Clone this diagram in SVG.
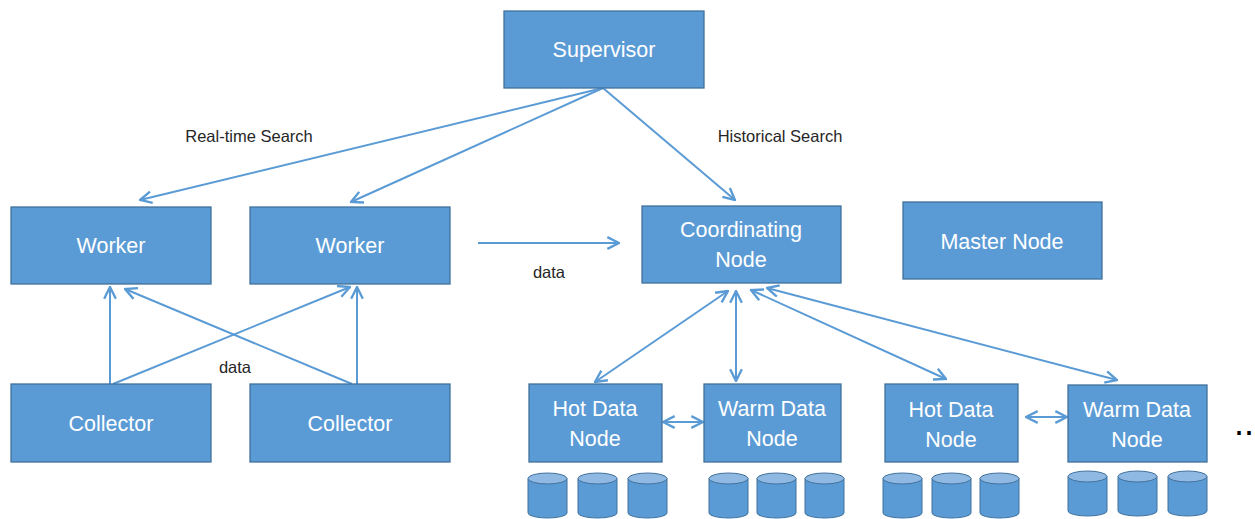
<svg xmlns="http://www.w3.org/2000/svg" width="1255" height="519" viewBox="0 0 1255 519">
<style>
.box{fill:#5B9BD5;stroke:#41719C;stroke-width:1.3}
.lbl{font-family:"Liberation Sans",Arial,sans-serif;font-size:21.5px;fill:#FFFFFF;text-anchor:middle}
.note{font-family:"Liberation Sans",Arial,sans-serif;font-size:16.5px;fill:#262626;text-anchor:middle}
.conn{stroke:#5B9BD5;stroke-width:2;fill:none}
.cylb{fill:#5B9BD5;stroke:#41719C;stroke-width:1}
.cylt{fill:#8FB9E3;stroke:#41719C;stroke-width:1}
</style>
<defs>
<marker id="ah" markerUnits="userSpaceOnUse" markerWidth="14" markerHeight="14" viewBox="0 0 12 12" refX="11" refY="6" orient="auto-start-reverse">
<path d="M1,1 L11,6 L1,11" fill="none" stroke="#5B9BD5" stroke-width="2"/>
</marker>
<g id="cyl">
<path class="cylb" d="M0,5.5 L0,40 A19.5,5 0 0 0 39,40 L39,5.5 Z"/>
<ellipse class="cylt" cx="19.5" cy="5.5" rx="19.5" ry="5.5"/>
</g>
</defs>
<rect width="1255" height="519" fill="#FFFFFF"/>

<g id="connectors">
<line class="conn" x1="603" y1="88" x2="140" y2="200" marker-end="url(#ah)"/>
<line class="conn" x1="603" y1="88" x2="351" y2="202" marker-end="url(#ah)"/>
<line class="conn" x1="603" y1="88" x2="735" y2="200" marker-end="url(#ah)"/>
<line class="conn" x1="478" y1="243" x2="619" y2="243" marker-end="url(#ah)"/>
<line class="conn" x1="110" y1="384" x2="110" y2="287" marker-end="url(#ah)"/>
<line class="conn" x1="357" y1="384" x2="357" y2="287" marker-end="url(#ah)"/>
<line class="conn" x1="113" y1="384" x2="350" y2="287" marker-end="url(#ah)"/>
<line class="conn" x1="352" y1="384" x2="125" y2="289" marker-end="url(#ah)"/>
<line class="conn" x1="728" y1="291" x2="595" y2="382" marker-start="url(#ah)" marker-end="url(#ah)"/>
<line class="conn" x1="736" y1="291" x2="736" y2="381" marker-start="url(#ah)" marker-end="url(#ah)"/>
<line class="conn" x1="751" y1="290" x2="946" y2="379" marker-start="url(#ah)" marker-end="url(#ah)"/>
<line class="conn" x1="767" y1="288" x2="1117" y2="380" marker-start="url(#ah)" marker-end="url(#ah)"/>
<line class="conn" x1="663" y1="422" x2="703" y2="422" marker-start="url(#ah)" marker-end="url(#ah)"/>
<line class="conn" x1="1026" y1="417" x2="1067" y2="417" marker-start="url(#ah)" marker-end="url(#ah)"/>
</g>

<g id="labels">
<text class="note" x="249" y="142">Real-time Search</text>
<text class="note" x="780" y="142">Historical Search</text>
<text class="note" x="235" y="373">data</text>
<text class="note" x="549" y="278">data</text>
</g>

<g id="supervisor"><rect class="box" x="504" y="11" width="200" height="77"/><text class="lbl" x="604" y="57">Supervisor</text></g>
<g id="worker1"><rect class="box" x="11" y="207" width="200" height="77"/><text class="lbl" x="111" y="253">Worker</text></g>
<g id="worker2"><rect class="box" x="250" y="207" width="200" height="77"/><text class="lbl" x="350" y="253">Worker</text></g>
<g id="collector1"><rect class="box" x="11" y="384" width="200" height="78"/><text class="lbl" x="111" y="431">Collector</text></g>
<g id="collector2"><rect class="box" x="250" y="384" width="200" height="78"/><text class="lbl" x="350" y="431">Collector</text></g>
<g id="coordinating"><rect class="box" x="642" y="206" width="199" height="77"/><text class="lbl" x="741" y="237">Coordinating</text><text class="lbl" x="741" y="267">Node</text></g>
<g id="master"><rect class="box" x="903" y="202" width="199" height="77"/><text class="lbl" x="1002" y="249">Master Node</text></g>
<g id="hot1"><rect class="box" x="529" y="384" width="133" height="78"/><text class="lbl" x="595" y="416">Hot Data</text><text class="lbl" x="595" y="446">Node</text></g>
<g id="warm1"><rect class="box" x="704" y="384" width="137" height="78"/><text class="lbl" x="772" y="416">Warm Data</text><text class="lbl" x="772" y="446">Node</text></g>
<g id="hot2"><rect class="box" x="885" y="384" width="133" height="78"/><text class="lbl" x="951" y="417">Hot Data</text><text class="lbl" x="951" y="447">Node</text></g>
<g id="warm2"><rect class="box" x="1068" y="385" width="139" height="77"/><text class="lbl" x="1137" y="417">Warm Data</text><text class="lbl" x="1137" y="447">Node</text></g>

<g id="storage">
<use href="#cyl" x="528" y="473"/>
<use href="#cyl" x="578" y="473"/>
<use href="#cyl" x="628" y="473"/>
<use href="#cyl" x="709" y="473"/>
<use href="#cyl" x="757" y="473"/>
<use href="#cyl" x="805" y="473"/>
<use href="#cyl" x="883" y="473"/>
<use href="#cyl" x="932" y="473"/>
<use href="#cyl" x="980" y="473"/>
<use href="#cyl" x="1068" y="471"/>
<use href="#cyl" x="1118" y="471"/>
<use href="#cyl" x="1168" y="471"/>
</g>

<text x="1234" y="435" style="font-family:'Liberation Sans',Arial,sans-serif;font-size:36px;fill:#000000">..</text>
</svg>
